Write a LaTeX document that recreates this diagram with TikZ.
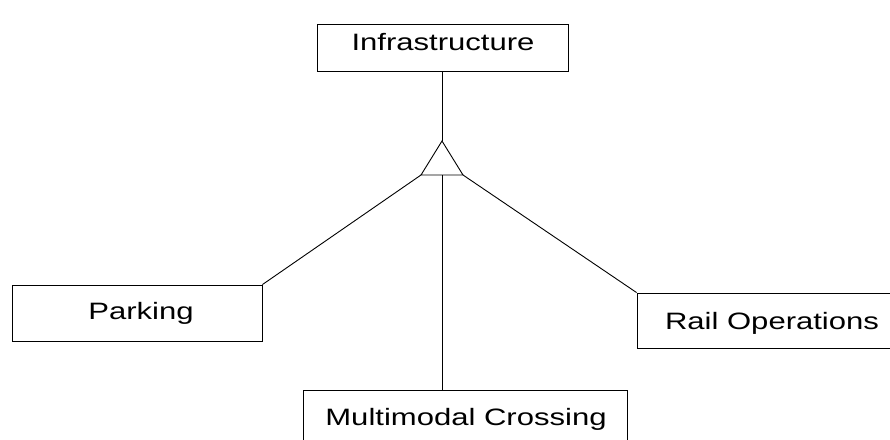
\documentclass[tikz,border=0pt]{standalone}
\usepackage{fontspec}
\setmainfont{Liberation Sans}
\newfontfamily\lblfont[FakeStretch=1.31]{Liberation Sans}
\begin{document}
\begin{tikzpicture}[x=1pt,y=-1pt,
  box/.style={draw=black,line width=0.9pt,rectangle,inner sep=0pt},
  lbl/.style={anchor=base,inner sep=0pt,font=\lblfont\fontsize{23.7}{26}\selectfont},
  conn/.style={draw=black,line width=0.9pt}]
\clip (0,0) rectangle (890,439);
\fill[white] (0,0) rectangle (890,439);
% boxes
\node[box,minimum width=251pt,minimum height=47pt] (infra) at (442.5,47.5) {};
\node[box,minimum width=250pt,minimum height=56pt] (park) at (137,313) {};
\node[box,minimum width=273pt,minimum height=55pt] (rail) at (773.5,320.5) {};
\node[box,minimum width=324pt,minimum height=70pt] (multi) at (465,425) {};
% labels
\node[lbl] (tinfra) at (443,50) {Infrastructure};
\node[lbl] (tpark) at (141,319) {Parking};
\node[lbl] (trail) at (772,329) {Rail Operations};
\node[lbl] (tmulti) at (466,425) {Multimodal Crossing};
% triangle
\coordinate (apex) at (442,141);
\coordinate (bl) at (421,175);
\coordinate (br) at (463,175);
\coordinate (bc) at (442,175);
\draw[conn,line join=miter] (apex) -- (bl) -- (br) -- cycle;
% connectors
\draw[conn] (infra.south -| apex) -- (apex);
\draw[conn] (bl) -- (park.north east);
\draw[conn] (br) -- (rail.north west);
\draw[conn] (bc) -- (multi.north -| bc);
\end{tikzpicture}
\end{document}
